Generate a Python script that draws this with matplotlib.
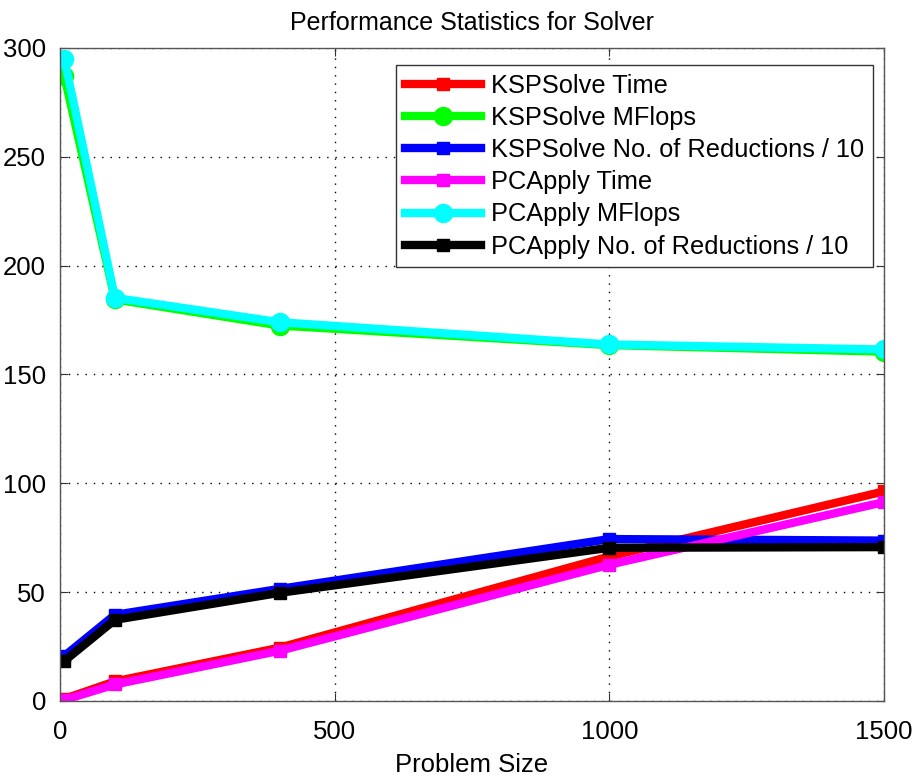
import matplotlib
matplotlib.use("Agg")
import matplotlib.pyplot as plt

plt.rcParams['font.family'] = ['Liberation Sans', 'DejaVu Sans']

problem_size = [8, 100, 400, 1000, 1500]

ksp_time = [1.0, 9.0, 24.5, 66.4, 96.3]
ksp_mflops = [287.0, 184.5, 172.5, 163.5, 160.5]
ksp_reductions = [20.7, 39.6, 51.5, 74.4, 73.7]
pc_time = [0.5, 7.6, 23.1, 62.6, 91.4]
pc_mflops = [294.8, 185.2, 174.0, 163.8, 161.5]
pc_reductions = [18.4, 37.3, 49.7, 70.4, 70.7]

series = [
    ("KSPSolve Time", ksp_time, "#ff0000", "s"),
    ("KSPSolve MFlops", ksp_mflops, "#00ff00", "o"),
    ("KSPSolve No. of Reductions / 10", ksp_reductions, "#0000ff", "s"),
    ("PCApply Time", pc_time, "#ff00ff", "s"),
    ("PCApply MFlops", pc_mflops, "#00ffff", "o"),
    ("PCApply No. of Reductions / 10", pc_reductions, "#000000", "s"),
]

fig = plt.figure(figsize=(9.2, 7.79), dpi=100)
ax = fig.add_axes([60 / 920, 1 - 701 / 779, 824 / 920, 653 / 779])

for label, vals, color, marker in series:
    ms = 13 if marker == "o" else 8.5
    ax.plot(problem_size, vals, color=color, lw=6, marker=marker, ms=ms,
            mec=color, mfc=color, label=label, solid_joinstyle="round")

ax.set_xlim(0, 1500)
ax.set_ylim(0, 300)
ax.set_xticks([0, 500, 1000, 1500])
ax.set_yticks(range(0, 301, 50))
ax.grid(True, linestyle=(0, (1, 5)), color="black", linewidth=1.0)
ax.tick_params(direction="in", length=6, top=True, right=True,
               labelsize=18.5, colors="#333333", labelcolor="black")
ax.tick_params(axis="y", pad=10)
ax.tick_params(axis="x", pad=14)
for sp in ax.spines.values():
    sp.set_color("#555555")
    sp.set_linewidth(1.0)

ax.set_title("Performance Statistics for Solver", fontsize=18, pad=13)
ax.set_xlabel("Problem Size", fontsize=18.5, labelpad=6)

leg = ax.legend(loc="upper right", bbox_to_anchor=(1 - 11 / 824, 1 - 17 / 653),
                fontsize=18.3, handlelength=3.0, handletextpad=0.4,
                borderaxespad=0, labelspacing=0.32, fancybox=False,
                framealpha=1, borderpad=0.35)
leg.get_frame().set_edgecolor("#333333")
leg.get_frame().set_linewidth(1.0)

fig.savefig("out.png", dpi=100)
